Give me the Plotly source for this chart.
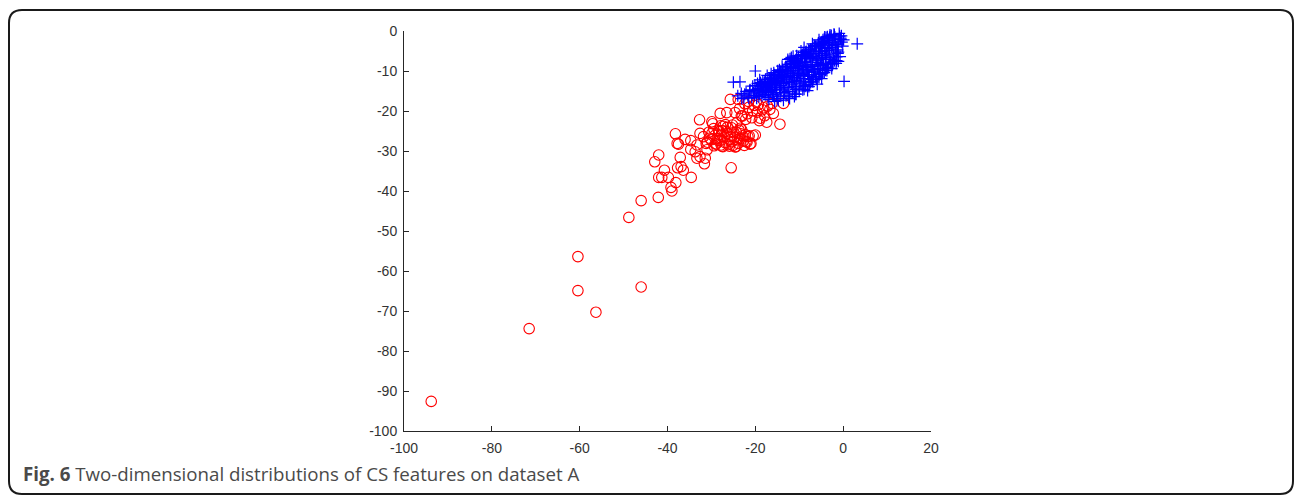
import plotly.graph_objects as go

red_x = [-93.8,-71.5,-60.4,-60.4,-56.3,-46,-48.8,-46,-42.1,-42,-42.9,-39.2,-39,-42,-41.3,-40.7,-39.8,-38.1,-34.6,
-37.1,-37.7,-36.9,-36.4,-38.2,-32.7,-37.5,-37.8,-36,-25.5,-31.6,-31.4,-33.3,-32.6,-33.7,-34.7,-31,-34.7,-33.3,
-32.6,-29.9,-28,-25.7,-23.9,-24.6,-26.5,-14.4,-17.4,-15.9,-13.6,-16.2,-20,-21.2,-27.6,
-31.8,-31.2,-30.6,-30.1,-29.7,-29.2,-28.9,-28.4,-28.1,-27.7,-27.3,-26.9,-26.6,-26.2,-25.8,-25.4,-25.1,-24.7,-24.3,-23.9,
-23.5,-23.1,-22.7,-22.3,-21.9,-21.4,-21,-20.5,-30.4,-29.5,-28.7,-27.9,-27.1,-26.4,-25.6,-24.9,-24.1,-23.3,-22.5,-21.7,
-30.9,-29.9,-29,-28.2,-27.4,-26.8,-25.9,-25.2,-24.4,-23.7,-22.9,-22.1,-28.6,-27.5,-26.3,-25.3,-24.6,-23.4,-29.4,-27.8,
-23.6,-23,-22.4,-21.8,-22.2,-21.5,-20.8,-20.2,-19.6,-19.1,-18.4,-17.9,-17.2,-21.6,-20.6,-19.8,-18.9,-18.1,-24.2,-23.2,-19.3,-16.7]
red_y = [-92.6,-74.4,-56.4,-64.9,-70.3,-64,-46.6,-42.4,-41.6,-31,-32.7,-39.1,-40,-36.6,-36.6,-34.8,-36.6,-37.9,-36.6,
-31.6,-34.2,-33.9,-34.8,-25.7,-22.2,-28.3,-28.1,-27.1,-34.2,-33.2,-31.8,-31.8,-31.4,-30.2,-29.6,-29.7,-27.4,-28.5,
-25.6,-22.7,-20.6,-17.1,-17.1,-20.4,-20.4,-23.3,-22.8,-20.6,-18.1,-18.1,-26,-28.3,-28.8,
-26.4,-28.1,-25.3,-27.2,-23.2,-26.1,-28.2,-24.9,-27.4,-25.8,-23.8,-27.9,-25.1,-28.4,-26.3,-24.2,-28.6,-26.7,-25.3,-28.1,
-26.9,-24.7,-27.5,-25.9,-27.8,-26.2,-28.1,-26.2,-26.8,-24.4,-26.9,-23.7,-26.5,-24.1,-27.1,-25.4,-27.2,-25.7,-28.6,-26.4,
-27.8,-25.6,-28.3,-25.2,-28.9,-23.4,-28.8,-23.5,-28.9,-24.8,-26.2,-27.6,-27.3,-24.9,-25.6,-27.7,-29,-24.3,-28.7,-28.5,
-19.4,-21.3,-18.2,-20.7,-22.1,-19.1,-21.7,-18.6,-20.3,-22.4,-19.7,-21.2,-18.8,-17.6,-19.9,-17.8,-21.8,-19.2,-22.9,-21.2,-18.4,-19.6]

blue_x = [3.2,0.2,-20,-25,-23.5,-24,-23.2,-22.6,-22.1,-21.7,-21.3,-20.8,-20.4,-20.1,-19.7,-19.4,-19.1,-18.8,-18.5,-18.2,
-23.1,-22.4,-21.5,-20.6,-19.9,-19.2,-18.6,-18,-17.7,-17.4,-17.1,-16.8,-16.5,-16.2,-15.9,-15.6,-15.3,-15,-14.7,-14.4,
-21.2,-20.2,-19.5,-18.9,-18.3,-17.6,-17.2,-16.9,-16.6,-16.3,-16,-15.7,-15.4,-15.1,-14.8,-14.5,-14.2,-13.9,-13.6,-13.3,
-19,-18.4,-17.8,-17.3,-17,-16.7,-16.4,-16.1,-15.8,-15.5,-15.2,-14.9,-14.6,-14.3,-14,-13.7,-13.4,-13.1,-12.8,-12.5,
-17.5,-16.9,-16.2,-15.6,-15,-14.5,-14.1,-13.8,-13.5,-13.2,-12.9,-12.6,-12.3,-12,-11.7,-11.4,-11.1,-10.8,-10.5,-10.2,
-15.8,-15.2,-14.7,-14.2,-13.7,-13.2,-12.7,-12.2,-11.8,-11.5,-11.2,-10.9,-10.6,-10.3,-10,-9.7,-9.4,-9.1,-8.8,-8.5,
-13.9,-13.4,-13,-12.4,-11.9,-11.6,-11.3,-11,-10.7,-10.4,-10.1,-9.8,-9.5,-9.2,-8.9,-8.6,-8.3,-8,-7.7,-7.4,
-12.1,-11.7,-11.2,-10.8,-10.4,-10,-9.6,-9.3,-9,-8.7,-8.4,-8.1,-7.8,-7.5,-7.2,-6.9,-6.6,-6.3,-6,-5.7,
-10.6,-10.2,-9.8,-9.4,-9,-8.6,-8.2,-7.9,-7.6,-7.3,-7,-6.7,-6.4,-6.1,-5.8,-5.5,-5.2,-4.9,-4.6,-4.3,
-9.1,-8.7,-8.3,-7.9,-7.5,-7.1,-6.8,-6.5,-6.2,-5.9,-5.6,-5.3,-5,-4.7,-4.4,-4.1,-3.8,-3.5,-3.2,-2.9,
-7.4,-7,-6.6,-6.2,-5.8,-5.4,-5.1,-4.8,-4.5,-4.2,-3.9,-3.6,-3.3,-3,-2.7,-2.4,-2.1,-1.8,-1.5,-1.2,
-5.6,-5.2,-4.8,-4.4,-4,-3.7,-3.4,-3.1,-2.8,-2.5,-2.2,-1.9,-1.6,-1.3,-1,-0.7,-0.4,-0.1,-4.6,-3.8,-3,-2.3,-1.7,-1.1,-0.6,
-6.4,-5.5,-4.9,-3.6,-2.6,-2,-1.4,-0.9,-0.5,-7.8,-6.9,-8.9,-10.9,-12.4,-14.8,-16.9,-1.1,-0.3,0.1,
-13,-11.5,-10,-8.5,-7,-5.5,-4,-2.5,-1.5,-12.2,-10.7,-9.2,-7.6,-6.1,-4.7,-3.3,-2,-15.6,-13.6,-11.1,-8.1,-5.9,
-18.7,-17.9,-17.1,-16.4,-15.5,-14.6,-13.8,-12.9,-12,-11.1,-10.2,-9.3,-8.4,-7.5,-6.6,-5.7,-4.8,-3.9,-3,-2.1,
-19.6,-18.2,-16.7,-15.1,-13.5,-12.6,-11.4,-9.9,-8.9,-7.3,-6.3,-5.2,-4.3,-3.5,-2.7,-1.8,-1.2,-0.8,
-17.7,-16,-14.3,-12.3,-10.5,-8.6,-6.8,-5,-3.1,-1.6,-14,-11.9,-9.5,-7.1,-4.5,-2.4,
-7,-5.5,-4.2,-9.6,-11.8]
blue_y = [-3.2,-12.6,-10,-12.8,-12.7,-16.2,-15.6,-16.7,-15.1,-16.2,-14.9,-16.6,-15.5,-13.6,-16.8,-14.4,-15.7,-12.9,-16.2,-14.2,
-16.9,-15.8,-16.8,-13.8,-15.2,-16.4,-13.4,-15.9,-12.1,-14.7,-16.6,-11.8,-15.2,-13.1,-16.3,-12.4,-14.6,-16.9,-11.3,-15.4,
-14.7,-16.1,-13.1,-14.9,-12.6,-16,-13.3,-15.4,-12.2,-14.2,-15.9,-10.9,-13.5,-15.5,-11.9,-14,-16.3,-10.2,-12.8,-15,
-12.2,-15.3,-13.7,-11.1,-14.9,-12.8,-10.7,-14.8,-11.5,-13.2,-15.8,-9.9,-12.5,-14.5,-10.9,-13.1,-15.4,-8.9,-11.7,-14.1,
-14.3,-13.4,-11.9,-14.1,-12.3,-9.7,-13.6,-11.2,-14.7,-9.2,-12.2,-15.1,-8.4,-10.6,-13.3,-9.1,-11.8,-14.6,-7.9,-10.3,
-10.4,-12.9,-10.9,-13.1,-9.6,-12,-9.9,-12.9,-7.6,-11.1,-13.8,-8.8,-12.4,-9.4,-14.3,-7.5,-10.8,-13,-6.9,-9.8,
-8.8,-11.4,-14.2,-10.2,-8.3,-12.6,-9.5,-11.6,-13.9,-7.9,-10.6,-12.7,-6.8,-9.2,-11.3,-13.6,-6.1,-8.5,-10.9,-12.8,
-6.9,-9.9,-12.2,-7.2,-11.1,-8.9,-13.2,-6.4,-9.6,-11.9,-7.7,-10.3,-5.6,-8.7,-12.1,-6.3,-9.7,-11.4,-5,-7.9,
-6.2,-8.2,-10.8,-7,-12.7,-5.3,-9.1,-11.2,-6.6,-4.5,-8.4,-10.2,-5.7,-7.3,-9.4,-11.5,-4.2,-6.8,-8.6,-10.4,
-5.4,-7.8,-10,-4.8,-6.4,-8.9,-11.7,-3.9,-7.2,-9.5,-5.2,-10.7,-3.4,-6.1,-8.2,-4.4,-9.3,-2.9,-6.7,-8,
-4.6,-6.9,-9.7,-3.7,-7.5,-5.6,-10.8,-3.1,-8.4,-4.9,-6.3,-9.1,-2.4,-7.1,-4.1,-8.3,-2,-5.5,-7.4,-3.3,
-3,-8.8,-5.1,-2.6,-6.6,-9.9,-4.3,-1.7,-7.7,-3.6,-6,-1.5,-8.1,-4.7,-2.5,-6.4,-1.2,-3.8,-2.2,-5.8,-1,-7.2,-3.2,-5.3,-1.8,
-10.3,-9.5,-11.9,-1.4,-9.4,-0.9,-5,-0.6,-2.1,-13.9,-12.7,-14.6,-15.8,-16.5,-17.4,-17.1,-7.6,-2.8,-2.2,
-16.2,-15.5,-15,-13.8,-12.5,-11,-9.8,-8,-6.5,-16.9,-15.8,-14.7,-13.4,-12.1,-10.6,-9,-7.4,-17.6,-17.3,-16.4,-14.9,-13.3,
-13.9,-12.8,-12.9,-11.7,-11.2,-10.4,-9.7,-8.9,-8.1,-7.4,-6.5,-5.9,-5.1,-4.6,-3.6,-3.1,-2.7,-1.6,-1.4,-0.8,
-14.6,-14,-13.7,-12.6,-11.6,-7.1,-6.3,-8.6,-4.1,-5,-3.9,-8.2,-1.9,-4.9,-1.1,-3.4,-5.6,-1.3,
-15.2,-14.1,-10.1,-11.4,-9,-7.9,-5.7,-3.7,-4.5,-4,-11,-9.3,-6.1,-9.5,-2.9,-2.8,
-3.2,-2.2,-1.5,-5,-6.6]

x_ticks = [-100, -80, -60, -40, -20, 0, 20]
x_labels = ["-100", "-80", "-60", "-40", "-20", "0", "20"]
y_ticks = [0, -10, -20, -30, -40, -50, -60, -70, -80, -90, -100]
y_labels = ["0", "-10", "-20", "-30", "-40", "-50", "-60", "-70", "-80", "-90", "-100"]
caption = "<b>Fig. 6</b> Two-dimensional distributions of CS features on dataset A"

W, H = 1295, 496
L, R, T, B = 404, 931, 31, 431

def px(v):
    return (v - L) / (R - L)

def py(v):
    return (B - v) / (B - T)

bx0, bx1, by0, by1, rad = 9, 1293, 10, 494, 13
border = (f"M {px(bx0+rad)} {py(by0)} L {px(bx1-rad)} {py(by0)} Q {px(bx1)} {py(by0)} {px(bx1)} {py(by0+rad)} "
          f"L {px(bx1)} {py(by1-rad)} Q {px(bx1)} {py(by1)} {px(bx1-rad)} {py(by1)} "
          f"L {px(bx0+rad)} {py(by1)} Q {px(bx0)} {py(by1)} {px(bx0)} {py(by1-rad)} "
          f"L {px(bx0)} {py(by0+rad)} Q {px(bx0)} {py(by0)} {px(bx0+rad)} {py(by0)} Z")

fig = go.Figure()
fig.add_trace(go.Scatter(x=red_x, y=red_y, mode="markers", cliponaxis=False,
                         marker=dict(symbol="circle-open", size=10.5, color="#ff0000", line=dict(width=1.1, color="#ff0000"))))
fig.add_trace(go.Scatter(x=blue_x, y=blue_y, mode="markers", cliponaxis=False,
                         marker=dict(symbol="cross-thin-open", size=8.5, color="#0000ff", line=dict(width=1.2, color="#0000ff"))))

axis = dict(showgrid=False, zeroline=False, showline=True, linecolor="#262626", linewidth=1,
            ticks="inside", ticklen=5, tickwidth=1, tickcolor="#262626", mirror=False,
            tickfont=dict(family="Liberation Sans", size=14, color="#333333"), tickmode="array")
fig.update_xaxes(range=[-100, 20], tickvals=x_ticks, ticktext=x_labels, ticklabelstandoff=4, **axis)
fig.update_yaxes(range=[-100, 0], tickvals=y_ticks, ticktext=y_labels, ticklabelstandoff=3, **axis)

fig.update_layout(width=W, height=H, showlegend=False, plot_bgcolor="white", paper_bgcolor="white",
                  margin=dict(l=L, r=W-R, t=T, b=H-B, pad=0),
                  shapes=[dict(type="path", xref="paper", yref="paper", path=border,
                               line=dict(color="#1a1a1a", width=2), fillcolor="rgba(0,0,0,0)", layer="below")],
                  annotations=[dict(text=caption, xref="paper", yref="paper", x=px(21), y=py(473),
                                    xanchor="left", yanchor="middle", showarrow=False,
                                    font=dict(family="Open Sans", size=18.7, color="#4a4a4a"))])

fig.write_html("out.html", config=dict(displayModeBar=False),
               post_script="document.body.style.margin='0';document.body.style.overflow='hidden';")
